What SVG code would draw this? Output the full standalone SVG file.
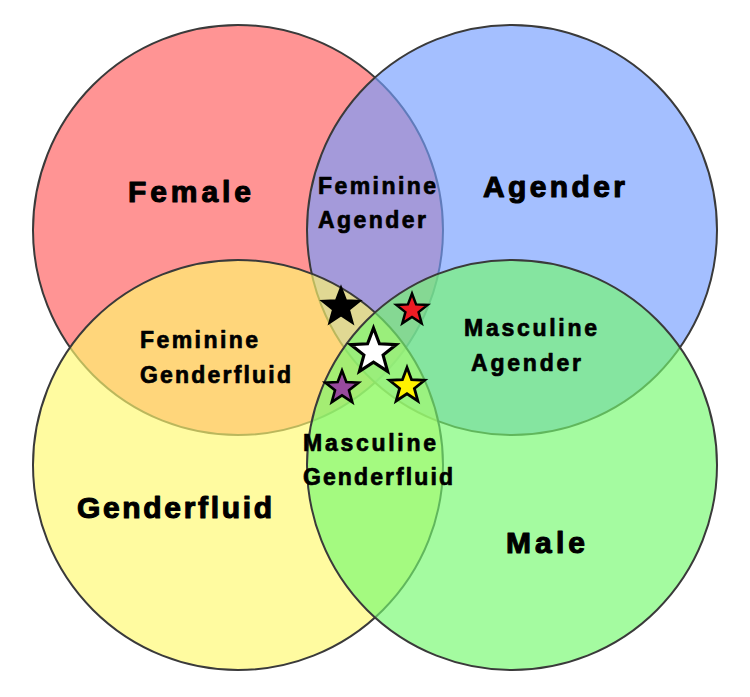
<svg xmlns="http://www.w3.org/2000/svg" xmlns:xlink="http://www.w3.org/1999/xlink" width="750" height="697" viewBox="0 0 750 697">
  <style>
    .set { stroke: #3a3a3a; stroke-width: 2; fill-opacity: 0.66; }
    .big { font-family: "Liberation Sans", Arial, sans-serif; font-weight: bold; font-size: 30px; fill: #000; stroke: #000; stroke-width: 1.1; stroke-linejoin: round; }
    .small { font-family: "Liberation Sans", Arial, sans-serif; font-weight: bold; font-size: 23px; fill: #000; stroke: #000; stroke-width: 0.7; stroke-linejoin: round; }
    .star { stroke: #000; stroke-linejoin: miter; }
  </style>
  <defs>
    <polygon id="starShape" points="0,-1 0.2469,-0.3398 0.9511,-0.309 0.3995,0.1298 0.5878,0.809 0,0.42 -0.5878,0.809 -0.3995,0.1298 -0.9511,-0.309 -0.2469,-0.3398"/>
  </defs>
  <rect width="750" height="697" fill="#ffffff"/>

  <g id="female">
    <circle class="set" cx="238" cy="230" r="205" fill="#ff5d5d"/>
  </g>
  <g id="agender">
    <circle class="set" cx="512" cy="230" r="205" fill="#759eff"/>
  </g>
  <g id="genderfluid">
    <circle class="set" cx="238" cy="465" r="205" fill="#fff96f"/>
  </g>
  <g id="male">
    <circle class="set" cx="512" cy="465" r="205" fill="#75f96f"/>
  </g>

  <g id="labels">
    <text class="big" x="128" y="202" textLength="123" lengthAdjust="spacing">Female</text>
    <text class="big" x="483" y="197" textLength="142" lengthAdjust="spacing">Agender</text>
    <text class="big" x="77" y="518" textLength="195" lengthAdjust="spacing">Genderfluid</text>
    <text class="big" x="506" y="553" textLength="79" lengthAdjust="spacing">Male</text>

    <text class="small" x="318" y="194" textLength="118" lengthAdjust="spacing">Feminine</text>
    <text class="small" x="318" y="228" textLength="108" lengthAdjust="spacing">Agender</text>

    <text class="small" x="140" y="348" textLength="118" lengthAdjust="spacing">Feminine</text>
    <text class="small" x="140" y="383" textLength="151" lengthAdjust="spacing">Genderfluid</text>

    <text class="small" x="464" y="336" textLength="133" lengthAdjust="spacing">Masculine</text>
    <text class="small" x="471" y="371" textLength="110" lengthAdjust="spacing">Agender</text>

    <text class="small" x="303" y="451" textLength="133" lengthAdjust="spacing">Masculine</text>
    <text class="small" x="303" y="485" textLength="150" lengthAdjust="spacing">Genderfluid</text>
  </g>

  <g id="stars">
    <use xlink:href="#starShape" class="star" fill="#000000" stroke-width="0.1" transform="translate(341,307) scale(20)"/>
    <use xlink:href="#starShape" class="star" fill="#ee1c24" stroke-width="0.15" transform="translate(412,310) scale(16.5)"/>
    <use xlink:href="#starShape" class="star" fill="#ffffff" stroke-width="0.13" transform="translate(373.5,352) scale(24)"/>
    <use xlink:href="#starShape" class="star" fill="#984a9e" stroke-width="0.15" transform="translate(342,388) scale(17.5)"/>
    <use xlink:href="#starShape" class="star" fill="#fff200" stroke-width="0.15" transform="translate(407,386) scale(18.5)"/>
  </g>
</svg>
